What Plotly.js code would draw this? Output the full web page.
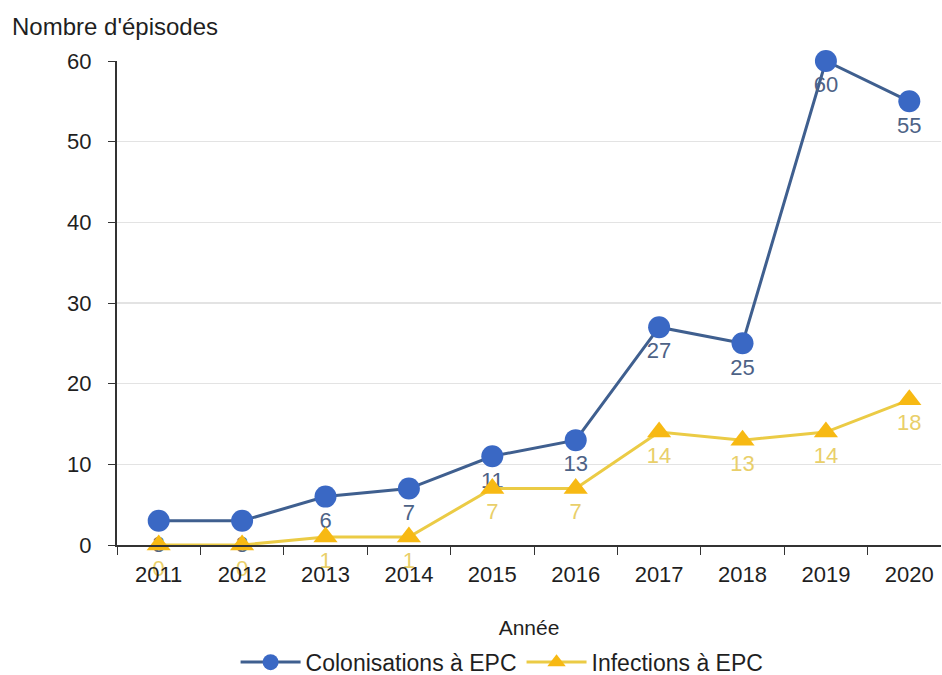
<!DOCTYPE html>
<html>
<head>
<meta charset="utf-8">
<script src="https://cdn.plot.ly/plotly-3.0.1.min.js"></script>
<style>
  html, body { margin: 0; padding: 0; background: #ffffff; }
  #chart { width: 942px; height: 675px; }
</style>
</head>
<body>
<div id="chart"></div>
<script>
// Episodes of carbapenemase-producing Enterobacteriaceae per year
const years = ['2011', '2012', '2013', '2014', '2015', '2016', '2017', '2018', '2019', '2020'];
const colonisations = [3, 3, 6, 7, 11, 13, 27, 25, 60, 55];
const infections = [0, 0, 1, 1, 7, 7, 14, 13, 14, 18];
const seriesNames = ['Colonisations à EPC', 'Infections à EPC'];
const yTicks = [0, 10, 20, 30, 40, 50, 60];

const FONT = '"Liberation Sans", Arial, sans-serif';
const INK = '#1f1f1f';

const traces = [
  {
    x: years, y: colonisations, name: seriesNames[0],
    type: 'scatter', mode: 'lines+markers+text',
    text: colonisations.map(String), textposition: 'bottom center',
    textfont: { family: FONT, size: 22, color: '#4d6286' },
    line: { color: '#3f5f8f', width: 3 },
    marker: { symbol: 'circle', size: 22, color: '#3a68c4', line: { width: 0 } },
    cliponaxis: false
  },
  {
    x: years, y: infections, name: seriesNames[1],
    type: 'scatter', mode: 'lines+markers+text',
    text: infections.map(String), textposition: 'bottom center',
    textfont: { family: FONT, size: 22, color: '#e9cf6a' },
    line: { color: '#ebcb45', width: 3 },
    marker: { symbol: 'triangle-up', size: 21, color: '#f7b913', line: { width: 0 } },
    cliponaxis: false
  }
];

const layout = {
  width: 942, height: 675,
  margin: { l: 117, r: 1, t: 61, b: 130 },
  paper_bgcolor: '#ffffff', plot_bgcolor: '#ffffff',
  font: { family: FONT, size: 22, color: INK },
  showlegend: true,
  legend: {
    orientation: 'h', xref: 'container', yref: 'container',
    x: 0.533, xanchor: 'center', y: 0.019, yanchor: 'middle',
    font: { family: FONT, size: 23, color: INK },
    itemwidth: 60, traceorder: 'normal'
  },
  xaxis: {
    type: 'category', range: [-0.5, 9.38],
    showline: true, linecolor: '#333333', linewidth: 2,
    ticks: 'outside', tickson: 'boundaries', ticklen: 8, tickcolor: '#333333',
    ticklabelstandoff: 9,
    tickfont: { family: FONT, size: 22, color: INK },
    showgrid: false, zeroline: false,
    title: { text: 'Année', font: { family: FONT, size: 21, color: INK }, standoff: 34 }
  },
  yaxis: {
    range: [0, 60], tickvals: yTicks,
    showline: true, linecolor: '#333333', linewidth: 2,
    ticks: 'outside', ticklen: 7, tickcolor: '#333333',
    ticklabelstandoff: 12,
    tickfont: { family: FONT, size: 22, color: INK },
    showgrid: true, gridcolor: '#e3e3e3', gridwidth: 1.5, zeroline: false
  },
  annotations: [{
    text: "Nombre d'épisodes", xref: 'paper', yref: 'paper',
    x: -0.13, y: 1.0, xanchor: 'left', yanchor: 'bottom', yshift: 19,
    showarrow: false, font: { family: FONT, size: 24, color: INK }
  }]
};

Plotly.newPlot('chart', traces, layout, { displayModeBar: false, staticPlot: true });
</script>
</body>
</html>
